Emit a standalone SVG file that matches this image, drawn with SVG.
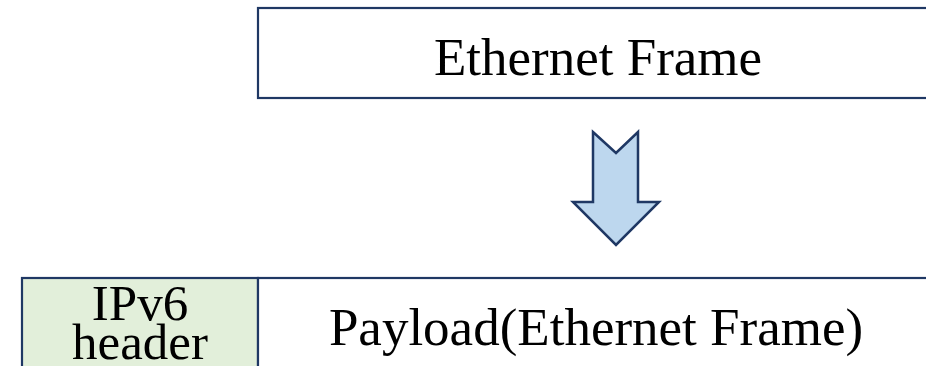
<svg xmlns="http://www.w3.org/2000/svg" width="926" height="366" viewBox="0 0 926 366">
<style>
.box{stroke:#1F3864;stroke-width:2.2}
.t{font-family:"Liberation Serif","Times New Roman",serif;font-size:53px;fill:#000;text-anchor:middle}
</style>
<rect width="926" height="366" fill="#fff"/>
<g id="ethernet-frame">
<rect class="box" x="258" y="8" width="700" height="90" fill="#fff"/>
<text class="t" x="598" y="75">Ethernet Frame</text>
</g>
<g id="connectors">
<path d="M593,132 L616,153 L638,132 L638,202 L659,202 L616,245 L573,202 L593,202 Z" fill="#BDD7EE" stroke="#1F3864" stroke-width="2.5" stroke-linejoin="miter"/>
</g>
<g id="ipv6-header">
<rect class="box" x="22" y="278" width="236" height="120" fill="#E2EFDA"/>
<text class="t" x="140" y="320" style="font-size:51px">IPv6</text>
<text class="t" x="140" y="359" style="font-size:51px">header</text>
</g>
<g id="payload">
<rect class="box" x="258" y="278" width="700" height="120" fill="#fff"/>
<text class="t" x="596" y="345">Payload(Ethernet Frame)</text>
</g>
</svg>
